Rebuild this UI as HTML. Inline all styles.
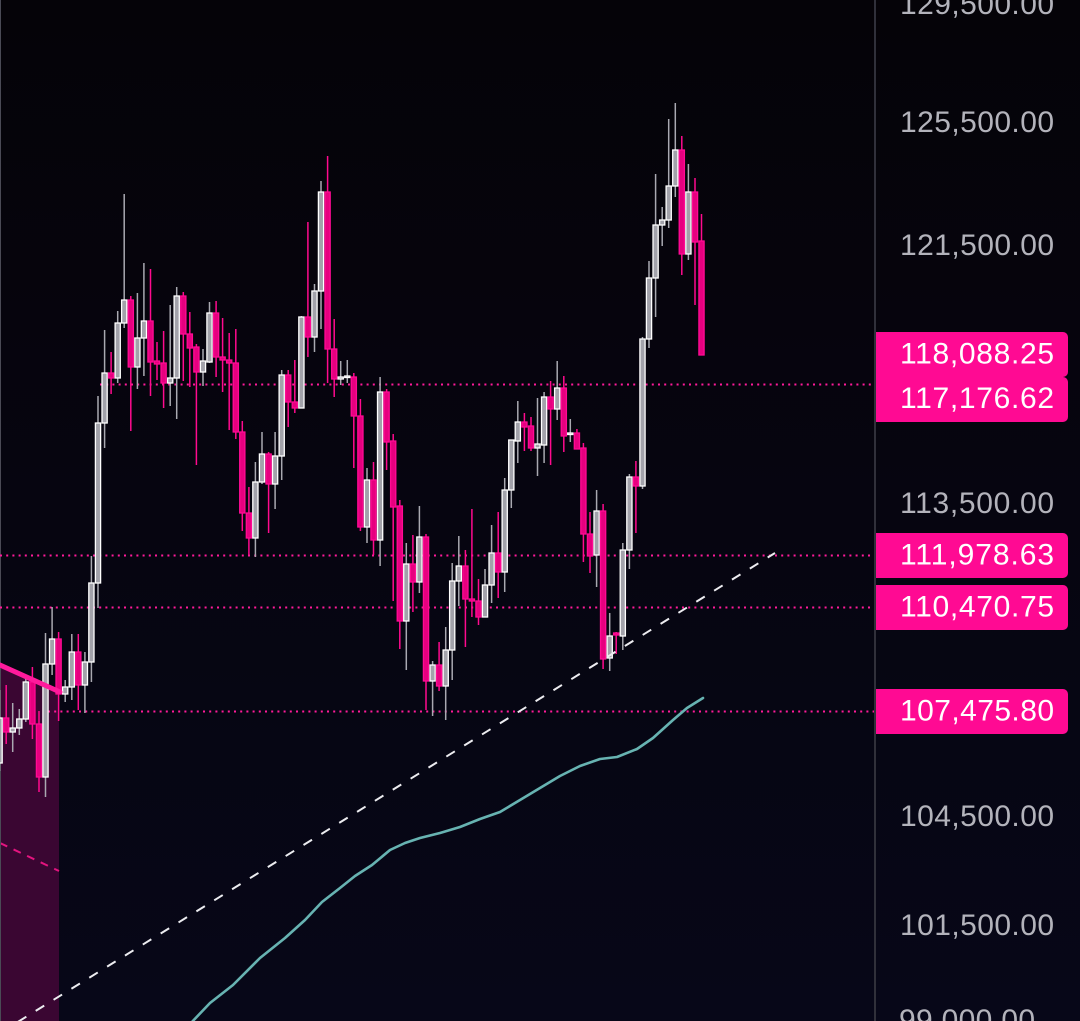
<!DOCTYPE html>
<html>
<head>
<meta charset="utf-8">
<style>
html,body{margin:0;padding:0;background:#05040c;}
body{width:1080px;height:1021px;overflow:hidden;}
svg{display:block;}
.bw{stroke:#a9a9b1;stroke-width:1.5;}
.bb{fill:#a2a2aa;stroke:#ffffff;stroke-width:1.3;}
.pw{stroke:#ff0a8e;stroke-width:1.5;}
.pb{fill:#e6007f;stroke:#ff0a94;stroke-width:1.3;}
.ax{font-family:"Liberation Sans",Arial,sans-serif;font-size:30px;fill:#b3b3bb;}
.tg{font-family:"Liberation Sans",Arial,sans-serif;font-size:30px;fill:#ffffff;}
</style>
</head>
<body>
<svg width="1080" height="1021" viewBox="0 0 1080 1021" xmlns="http://www.w3.org/2000/svg">
<defs>
<linearGradient id="bg" x1="0" y1="0" x2="0" y2="1">
<stop offset="0" stop-color="#050308"/>
<stop offset="1" stop-color="#070718"/>
</linearGradient>
</defs>
<rect x="0" y="0" width="1080" height="1021" fill="url(#bg)"/>

<!-- shaded box -->
<polygon points="0,665 59,692 59,1021 0,1021" fill="#3a0632"/>
<line x1="0" y1="843" x2="59" y2="871" stroke="#e3147f" stroke-width="2" stroke-dasharray="8 7"/>
<line x1="0.5" y1="0" x2="0.5" y2="1021" stroke="#4a4a55" stroke-width="1"/>

<!-- dotted level lines -->
<g stroke="#ff1a9a" stroke-width="2" stroke-dasharray="2 4.2">
<line x1="100" y1="384.5" x2="875" y2="384.5"/>
<line x1="0" y1="555.5" x2="875" y2="555.5"/>
<line x1="0" y1="607.5" x2="875" y2="607.5"/>
<line x1="48" y1="711.5" x2="875" y2="711.5"/>
</g>

<!-- teal MA -->
<polyline fill="none" stroke="#67b3b2" stroke-width="2.6" stroke-linejoin="round" stroke-linecap="round"
points="190,1024 210,1003 233,985 260,958 285,938 305,920 322,902 340,888 355,876 372,865 390,850 405,843 420,838 440,833 460,827 480,819 500,812 520,800 540,788 560,776 580,766 600,759 617,757 637,749 653,738 673,720 687,708 703,698"/>

<!-- candles -->
<g>
<line class="bw" x1="-0.4" y1="690" x2="-0.4" y2="771"/><rect class="bb" x="-3.0" y="718" width="5.2" height="45"/>
<line class="pw" x1="6.2" y1="685" x2="6.2" y2="744"/><rect class="pb" x="3.6" y="718" width="5.2" height="14"/>
<line class="bw" x1="12.7" y1="703" x2="12.7" y2="752"/><rect class="bb" x="10.1" y="728" width="5.2" height="4"/>
<line class="bw" x1="19.3" y1="709" x2="19.3" y2="735"/><rect class="bb" x="16.7" y="719" width="5.2" height="9"/>
<line class="bw" x1="25.8" y1="676" x2="25.8" y2="722"/><rect class="bb" x="23.2" y="682" width="5.2" height="37"/>
<line class="pw" x1="32.4" y1="667" x2="32.4" y2="739"/><rect class="pb" x="29.8" y="682" width="5.2" height="42"/>
<line class="pw" x1="39.0" y1="711" x2="39.0" y2="792"/><rect class="pb" x="36.4" y="724" width="5.2" height="53"/>
<line class="bw" x1="45.5" y1="633" x2="45.5" y2="797"/><rect class="bb" x="42.9" y="664" width="5.2" height="113"/>
<line class="bw" x1="52.1" y1="607" x2="52.1" y2="675"/><rect class="bb" x="49.5" y="639" width="5.2" height="25"/>
<line class="pw" x1="58.6" y1="632" x2="58.6" y2="721"/><rect class="pb" x="56.0" y="639" width="5.2" height="55"/>
<line class="bw" x1="65.2" y1="680" x2="65.2" y2="702"/><rect class="bb" x="62.6" y="687" width="5.2" height="7"/>
<line class="bw" x1="71.8" y1="634" x2="71.8" y2="700"/><rect class="bb" x="69.2" y="652" width="5.2" height="35"/>
<line class="pw" x1="78.3" y1="634" x2="78.3" y2="710"/><rect class="pb" x="75.7" y="652" width="5.2" height="33"/>
<line class="bw" x1="84.9" y1="652" x2="84.9" y2="713"/><rect class="bb" x="82.3" y="662" width="5.2" height="23"/>
<line class="bw" x1="91.4" y1="556" x2="91.4" y2="682"/><rect class="bb" x="88.8" y="583" width="5.2" height="79"/>
<line class="bw" x1="98.0" y1="396" x2="98.0" y2="608"/><rect class="bb" x="95.4" y="423" width="5.2" height="160"/>
<line class="bw" x1="104.6" y1="330" x2="104.6" y2="448"/><rect class="bb" x="102.0" y="373" width="5.2" height="50"/>
<line class="pw" x1="111.1" y1="352" x2="111.1" y2="394"/><rect class="pb" x="108.5" y="373" width="5.2" height="5"/>
<line class="bw" x1="117.7" y1="311" x2="117.7" y2="383"/><rect class="bb" x="115.1" y="323" width="5.2" height="55"/>
<line class="bw" x1="124.2" y1="194" x2="124.2" y2="328"/><rect class="bb" x="121.6" y="300" width="5.2" height="23"/>
<line class="pw" x1="130.8" y1="296" x2="130.8" y2="431"/><rect class="pb" x="128.2" y="300" width="5.2" height="67"/>
<line class="bw" x1="137.4" y1="293" x2="137.4" y2="389"/><rect class="bb" x="134.8" y="338" width="5.2" height="29"/>
<line class="bw" x1="143.9" y1="263" x2="143.9" y2="376"/><rect class="bb" x="141.3" y="321" width="5.2" height="17"/>
<line class="pw" x1="150.5" y1="269" x2="150.5" y2="396"/><rect class="pb" x="147.9" y="321" width="5.2" height="41"/>
<line class="pw" x1="157.0" y1="342" x2="157.0" y2="380"/><rect class="pb" x="154.4" y="361" width="5.2" height="3"/>
<line class="pw" x1="163.6" y1="331" x2="163.6" y2="408"/><rect class="pb" x="161.0" y="363" width="5.2" height="20"/>
<line class="bw" x1="170.2" y1="305" x2="170.2" y2="406"/><rect class="bb" x="167.6" y="378" width="5.2" height="5"/>
<line class="bw" x1="176.7" y1="287" x2="176.7" y2="419"/><rect class="bb" x="174.1" y="296" width="5.2" height="82"/>
<line class="pw" x1="183.3" y1="292" x2="183.3" y2="381"/><rect class="pb" x="180.7" y="296" width="5.2" height="38"/>
<line class="pw" x1="189.8" y1="312" x2="189.8" y2="387"/><rect class="pb" x="187.2" y="334" width="5.2" height="14"/>
<line class="pw" x1="196.4" y1="344" x2="196.4" y2="465"/><rect class="pb" x="193.8" y="347" width="5.2" height="25"/>
<line class="bw" x1="203.0" y1="349" x2="203.0" y2="386"/><rect class="bb" x="200.4" y="361" width="5.2" height="11"/>
<line class="bw" x1="209.5" y1="302" x2="209.5" y2="363"/><rect class="bb" x="206.9" y="313" width="5.2" height="49"/>
<line class="pw" x1="216.1" y1="301" x2="216.1" y2="377"/><rect class="pb" x="213.5" y="313" width="5.2" height="44"/>
<line class="pw" x1="222.6" y1="318" x2="222.6" y2="392"/><rect class="pb" x="220.0" y="357" width="5.2" height="3"/>
<line class="pw" x1="229.2" y1="333" x2="229.2" y2="430"/><rect class="pb" x="226.6" y="360" width="5.2" height="3"/>
<line class="pw" x1="235.8" y1="329" x2="235.8" y2="439"/><rect class="pb" x="233.2" y="363" width="5.2" height="69"/>
<line class="pw" x1="242.3" y1="421" x2="242.3" y2="531"/><rect class="pb" x="239.7" y="432" width="5.2" height="81"/>
<line class="pw" x1="248.9" y1="487" x2="248.9" y2="555"/><rect class="pb" x="246.3" y="513" width="5.2" height="25"/>
<line class="bw" x1="255.4" y1="462" x2="255.4" y2="557"/><rect class="bb" x="252.8" y="482" width="5.2" height="56"/>
<line class="bw" x1="262.0" y1="432" x2="262.0" y2="484"/><rect class="bb" x="259.4" y="454" width="5.2" height="28"/>
<line class="pw" x1="268.6" y1="452" x2="268.6" y2="533"/><rect class="pb" x="266.0" y="454" width="5.2" height="30"/>
<line class="bw" x1="275.1" y1="432" x2="275.1" y2="509"/><rect class="bb" x="272.5" y="456" width="5.2" height="28"/>
<line class="bw" x1="281.7" y1="370" x2="281.7" y2="480"/><rect class="bb" x="279.1" y="375" width="5.2" height="81"/>
<line class="pw" x1="288.2" y1="370" x2="288.2" y2="427"/><rect class="pb" x="285.6" y="375" width="5.2" height="27"/>
<line class="pw" x1="294.8" y1="360" x2="294.8" y2="413"/><rect class="pb" x="292.2" y="402" width="5.2" height="6"/>
<line class="bw" x1="301.4" y1="316" x2="301.4" y2="408"/><rect class="bb" x="298.8" y="317" width="5.2" height="91"/>
<line class="pw" x1="307.9" y1="222" x2="307.9" y2="357"/><rect class="pb" x="305.3" y="317" width="5.2" height="20"/>
<line class="bw" x1="314.5" y1="284" x2="314.5" y2="352"/><rect class="bb" x="311.9" y="291" width="5.2" height="46"/>
<line class="bw" x1="321.0" y1="181" x2="321.0" y2="329"/><rect class="bb" x="318.4" y="192" width="5.2" height="99"/>
<line class="pw" x1="327.6" y1="156" x2="327.6" y2="383"/><rect class="pb" x="325.0" y="192" width="5.2" height="157"/>
<line class="pw" x1="334.2" y1="319" x2="334.2" y2="397"/><rect class="pb" x="331.6" y="349" width="5.2" height="30"/>
<line class="bw" x1="340.7" y1="361" x2="340.7" y2="385"/><rect class="bb" x="338.1" y="377" width="5.2" height="2"/>
<line class="bw" x1="347.3" y1="360" x2="347.3" y2="383"/><rect class="bb" x="344.7" y="376" width="5.2" height="1.5"/>
<line class="pw" x1="353.8" y1="373" x2="353.8" y2="468"/><rect class="pb" x="351.2" y="377" width="5.2" height="39"/>
<line class="pw" x1="360.4" y1="399" x2="360.4" y2="531"/><rect class="pb" x="357.8" y="416" width="5.2" height="111"/>
<line class="bw" x1="367.0" y1="468" x2="367.0" y2="543"/><rect class="bb" x="364.4" y="480" width="5.2" height="47"/>
<line class="pw" x1="373.5" y1="462" x2="373.5" y2="555"/><rect class="pb" x="370.9" y="480" width="5.2" height="60"/>
<line class="bw" x1="380.1" y1="377" x2="380.1" y2="566"/><rect class="bb" x="377.5" y="392" width="5.2" height="148"/>
<line class="pw" x1="386.6" y1="389" x2="386.6" y2="470"/><rect class="pb" x="384.0" y="392" width="5.2" height="50"/>
<line class="pw" x1="393.2" y1="434" x2="393.2" y2="601"/><rect class="pb" x="390.6" y="441" width="5.2" height="66"/>
<line class="pw" x1="399.8" y1="500" x2="399.8" y2="649"/><rect class="pb" x="397.2" y="506" width="5.2" height="115"/>
<line class="bw" x1="406.3" y1="543" x2="406.3" y2="670"/><rect class="bb" x="403.7" y="564" width="5.2" height="57"/>
<line class="pw" x1="412.9" y1="535" x2="412.9" y2="612"/><rect class="pb" x="410.3" y="564" width="5.2" height="18"/>
<line class="bw" x1="419.4" y1="506" x2="419.4" y2="593"/><rect class="bb" x="416.8" y="537" width="5.2" height="45"/>
<line class="pw" x1="426.0" y1="534" x2="426.0" y2="710"/><rect class="pb" x="423.4" y="537" width="5.2" height="144"/>
<line class="bw" x1="432.6" y1="661" x2="432.6" y2="716"/><rect class="bb" x="430.0" y="665" width="5.2" height="16"/>
<line class="pw" x1="439.1" y1="642" x2="439.1" y2="691"/><rect class="pb" x="436.5" y="665" width="5.2" height="21"/>
<line class="bw" x1="445.7" y1="627" x2="445.7" y2="720"/><rect class="bb" x="443.1" y="650" width="5.2" height="36"/>
<line class="bw" x1="452.2" y1="563" x2="452.2" y2="680"/><rect class="bb" x="449.6" y="581" width="5.2" height="69"/>
<line class="bw" x1="458.8" y1="536" x2="458.8" y2="606"/><rect class="bb" x="456.2" y="566" width="5.2" height="15"/>
<line class="pw" x1="465.4" y1="550" x2="465.4" y2="647"/><rect class="pb" x="462.8" y="566" width="5.2" height="33"/>
<line class="pw" x1="471.9" y1="509" x2="471.9" y2="617"/><rect class="pb" x="469.3" y="599" width="5.2" height="2"/>
<line class="pw" x1="478.5" y1="579" x2="478.5" y2="625"/><rect class="pb" x="475.9" y="601" width="5.2" height="16"/>
<line class="bw" x1="485.0" y1="569" x2="485.0" y2="617"/><rect class="bb" x="482.4" y="585" width="5.2" height="32"/>
<line class="bw" x1="491.6" y1="525" x2="491.6" y2="603"/><rect class="bb" x="489.0" y="553" width="5.2" height="32"/>
<line class="pw" x1="498.2" y1="512" x2="498.2" y2="598"/><rect class="pb" x="495.6" y="553" width="5.2" height="19"/>
<line class="bw" x1="504.7" y1="478" x2="504.7" y2="592"/><rect class="bb" x="502.1" y="490" width="5.2" height="82"/>
<line class="bw" x1="511.3" y1="440" x2="511.3" y2="508"/><rect class="bb" x="508.7" y="440" width="5.2" height="50"/>
<line class="bw" x1="517.8" y1="401" x2="517.8" y2="463"/><rect class="bb" x="515.2" y="422" width="5.2" height="19"/>
<line class="pw" x1="524.4" y1="413" x2="524.4" y2="451"/><rect class="pb" x="521.8" y="422" width="5.2" height="5"/>
<line class="pw" x1="531.0" y1="417" x2="531.0" y2="451"/><rect class="pb" x="528.4" y="426" width="5.2" height="22"/>
<line class="bw" x1="537.5" y1="398" x2="537.5" y2="476"/><rect class="bb" x="534.9" y="444" width="5.2" height="4"/>
<line class="bw" x1="544.1" y1="392" x2="544.1" y2="463"/><rect class="bb" x="541.5" y="397" width="5.2" height="48"/>
<line class="pw" x1="550.6" y1="381" x2="550.6" y2="465"/><rect class="pb" x="548.0" y="397" width="5.2" height="12"/>
<line class="bw" x1="557.2" y1="361" x2="557.2" y2="420"/><rect class="bb" x="554.6" y="388" width="5.2" height="21"/>
<line class="pw" x1="563.8" y1="376" x2="563.8" y2="452"/><rect class="pb" x="561.2" y="388" width="5.2" height="48"/>
<line class="bw" x1="570.3" y1="419" x2="570.3" y2="442"/><rect class="bb" x="567.7" y="433" width="5.2" height="1.5"/>
<line class="pw" x1="576.9" y1="429" x2="576.9" y2="449"/><rect class="pb" x="574.3" y="433" width="5.2" height="16"/>
<line class="pw" x1="583.4" y1="443" x2="583.4" y2="562"/><rect class="pb" x="580.8" y="448" width="5.2" height="86"/>
<line class="pw" x1="590.0" y1="512" x2="590.0" y2="573"/><rect class="pb" x="587.4" y="534" width="5.2" height="22"/>
<line class="bw" x1="596.6" y1="490" x2="596.6" y2="587"/><rect class="bb" x="594.0" y="511" width="5.2" height="44"/>
<line class="pw" x1="603.1" y1="504" x2="603.1" y2="669"/><rect class="pb" x="600.5" y="511" width="5.2" height="148"/>
<line class="bw" x1="609.7" y1="613" x2="609.7" y2="671"/><rect class="bb" x="607.1" y="636" width="5.2" height="22"/>
<line class="pw" x1="616.2" y1="632" x2="616.2" y2="654"/><rect class="pb" x="613.6" y="633" width="5.2" height="2"/>
<line class="bw" x1="622.8" y1="543" x2="622.8" y2="650"/><rect class="bb" x="620.2" y="550" width="5.2" height="86"/>
<line class="bw" x1="629.4" y1="474" x2="629.4" y2="569"/><rect class="bb" x="626.8" y="477" width="5.2" height="73"/>
<line class="pw" x1="635.9" y1="461" x2="635.9" y2="533"/><rect class="pb" x="633.3" y="477" width="5.2" height="9"/>
<line class="bw" x1="642.5" y1="337" x2="642.5" y2="489"/><rect class="bb" x="639.9" y="339" width="5.2" height="147"/>
<line class="bw" x1="649.0" y1="261" x2="649.0" y2="348"/><rect class="bb" x="646.4" y="278" width="5.2" height="61"/>
<line class="bw" x1="655.6" y1="174" x2="655.6" y2="317"/><rect class="bb" x="653.0" y="225" width="5.2" height="53"/>
<line class="bw" x1="662.2" y1="207" x2="662.2" y2="246"/><rect class="bb" x="659.6" y="220" width="5.2" height="5"/>
<line class="bw" x1="668.7" y1="119" x2="668.7" y2="228"/><rect class="bb" x="666.1" y="186" width="5.2" height="34"/>
<line class="bw" x1="675.3" y1="103" x2="675.3" y2="197"/><rect class="bb" x="672.7" y="150" width="5.2" height="36"/>
<line class="pw" x1="681.8" y1="136" x2="681.8" y2="275"/><rect class="pb" x="679.2" y="150" width="5.2" height="104"/>
<line class="bw" x1="688.4" y1="164" x2="688.4" y2="260"/><rect class="bb" x="685.8" y="192" width="5.2" height="62"/>
<line class="pw" x1="695.0" y1="178" x2="695.0" y2="305"/><rect class="pb" x="692.4" y="192" width="5.2" height="50"/>
<line class="pw" x1="701.5" y1="214" x2="701.5" y2="355"/><rect class="pb" x="698.9" y="241" width="5.2" height="114"/>
</g>

<!-- pink thick trend line -->
<line x1="0" y1="665" x2="60" y2="692" stroke="#ff1a9c" stroke-width="5" stroke-linecap="round"/>

<!-- white dashed trend line -->
<line x1="0" y1="1033" x2="775" y2="553" stroke="#ececf0" stroke-width="2" stroke-dasharray="10 11"/>

<!-- right axis -->
<rect x="875" y="0" width="205" height="1021" fill="url(#bg)"/>
<line x1="875" y1="0" x2="875" y2="1021" stroke="#30303a" stroke-width="2"/>

<g class="ax" text-anchor="end">
<text x="1054" y="13.8" textLength="154">129,500.00</text>
<text x="1054" y="132" textLength="154">125,500.00</text>
<text x="1054" y="255" textLength="154">121,500.00</text>
<text x="1054" y="513" textLength="154">113,500.00</text>
<text x="1054" y="826" textLength="154">104,500.00</text>
<text x="1054" y="935" textLength="154">101,500.00</text>
</g>
<text class="ax" x="899" y="1030" textLength="136">99,000.00</text>

<!-- tags -->
<g fill="#ff0a93">
<path d="M876,332 h187 a5,5 0 0 1 5,5 v35 a5,5 0 0 1 -5,5 h-187 z"/>
<path d="M876,377 h187 a5,5 0 0 1 5,5 v35 a5,5 0 0 1 -5,5 h-187 z"/>
<path d="M876,533 h187 a5,5 0 0 1 5,5 v35 a5,5 0 0 1 -5,5 h-187 z"/>
<path d="M876,585 h187 a5,5 0 0 1 5,5 v35 a5,5 0 0 1 -5,5 h-187 z"/>
<path d="M876,689 h187 a5,5 0 0 1 5,5 v35 a5,5 0 0 1 -5,5 h-187 z"/>
</g>
<g class="tg" text-anchor="end">
<text x="1054" y="363.3" textLength="154">118,088.25</text>
<text x="1054" y="408" textLength="154">117,176.62</text>
<text x="1054" y="564.3" textLength="154">111,978.63</text>
<text x="1054" y="616.3" textLength="154">110,470.75</text>
<text x="1054" y="720.3" textLength="154">107,475.80</text>
</g>
</svg>
</body>
</html>
